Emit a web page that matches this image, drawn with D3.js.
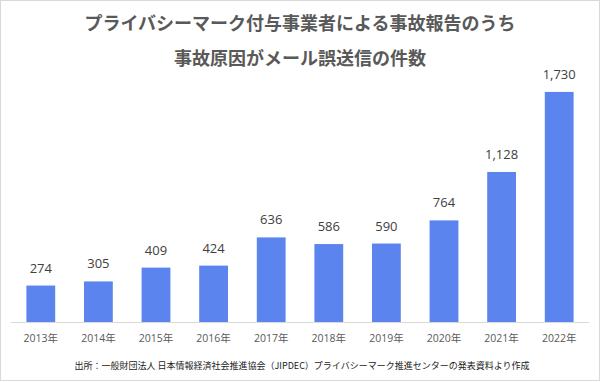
<!DOCTYPE html>
<html><head><meta charset="utf-8">
<script src="https://cdn.jsdelivr.net/npm/d3@7"></script>
<style>
html,body{margin:0;padding:0;background:#fff;}
svg{display:block;}
</style></head>
<body>
<svg id="chart" width="601" height="382"></svg>
<script>
const years = ["2013年","2014年","2015年","2016年","2017年","2018年","2019年","2020年","2021年","2022年"];
const counts = [274,305,409,424,636,586,590,764,1128,1730];
const titleLines = ["プライバシーマーク付与事業者による事故報告のうち","事故原因がメール誤送信の件数"];
const sourceText = "出所：一般財団法人 日本情報経済社会推進協会（JIPDEC）プライバシーマーク推進センターの発表資料より作成";

const svg = d3.select("#chart");
const W = 601, H = 382;
const cjk = "'Noto Sans CJK JP', 'Noto Sans', sans-serif";
const latin = "'Open Sans', 'Noto Sans CJK JP', sans-serif";

svg.append("rect").attr("x",0.5).attr("y",0.5).attr("width",599).attr("height",380)
  .attr("fill","#fff").attr("stroke","#d9d9d9");

svg.selectAll("text.title").data(titleLines).join("text").attr("class","title")
  .attr("x",300).attr("y",(d,i)=>30+i*34.5)
  .attr("text-anchor","middle").attr("font-family",cjk).attr("font-weight","bold")
  .attr("font-size",18).attr("fill","#595959").text(d=>d);

const x = d3.scaleBand().domain(years).range([12,588]).paddingInner(0.5).paddingOuter(0.25);
const y = d3.scaleLinear().domain([0,2000]).range([322,56]);

svg.selectAll("rect.bar").data(counts).join("rect").attr("class","bar")
  .attr("x",(d,i)=>x(years[i])).attr("width",x.bandwidth())
  .attr("y",d=>y(d)).attr("height",d=>y(0)-y(d)).attr("fill","#5b84ee");

svg.selectAll("text.val").data(counts).join("text").attr("class","val")
  .attr("x",(d,i)=>x(years[i])+x.bandwidth()/2).attr("y",d=>y(d)-13)
  .attr("text-anchor","middle").attr("font-family",latin).attr("font-size",13)
  .attr("fill","#404040").text(d=>d3.format(",")(d));

const xAxis = svg.append("g").attr("transform","translate(0,322)")
  .call(d3.axisBottom(x).tickSize(0).tickPadding(0));
xAxis.select(".domain").attr("stroke","#d9d9d9").attr("d","M11,0.5H589");
xAxis.selectAll(".tick text").attr("y",20).attr("dy",0)
  .attr("font-family",latin).attr("font-size",10.5).attr("fill","#595959");

svg.append("text").attr("x",302).attr("y",369).attr("text-anchor","middle")
  .attr("font-family",cjk).attr("font-size",9).attr("fill","#1a1a1a").text(sourceText);
</script>
</body></html>
